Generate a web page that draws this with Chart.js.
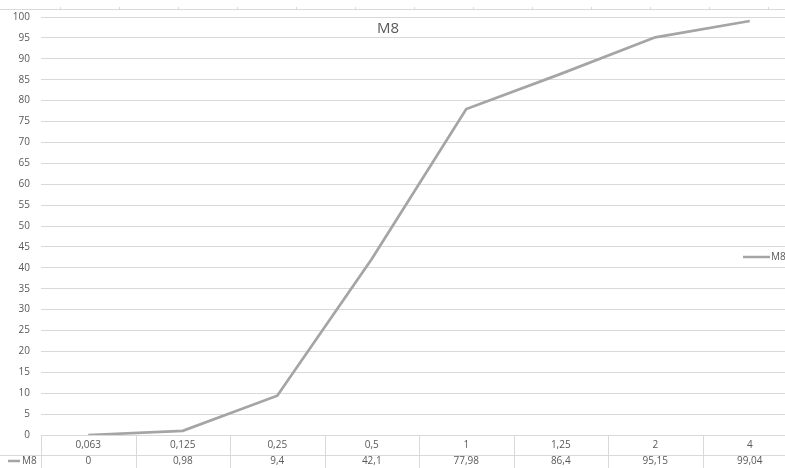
<!DOCTYPE html>
<html>
<head>
<meta charset="utf-8">
<script src="https://cdn.jsdelivr.net/npm/chart.js@4"></script>
<style>
  html, body { margin: 0; padding: 0; background: #fff; }
  #wrap { width: 785px; height: 468px; overflow: hidden; position: relative; }
  #box { width: 800px; height: 468px; }
</style>
</head>
<body>
<div id="wrap"><div id="box"><canvas id="c"></canvas></div></div>
<script>
// Sieve sizes (mm) and cumulative passing (%) for sample M8
const categories = ['0,063', '0,125', '0,25', '0,5', '1', '1,25', '2', '4'];
const m8Values = [0, 0.98, 9.4, 42.1, 77.98, 86.4, 95.15, 99.04];
const seriesName = 'M8';
const chartTitle = 'M8';

const TEXT = '#595959';
const GRID = '#d9d9d9';
const LINE = '#a5a5a5';
const FONT = '"Open Sans", "DejaVu Sans", sans-serif';

function fmt(v) { return String(v).replace('.', ','); }

// Title, legend, and the data table under the plot
const decorations = {
  id: 'decorations',
  afterDraw(chart) {
    const ctx = chart.ctx;
    const xs = chart.scales.x;
    const area = chart.chartArea;
    const W = chart.width;
    ctx.save();

    // thin rule along the top edge with small marks
    ctx.strokeStyle = GRID;
    ctx.lineWidth = 1;
    ctx.beginPath();
    ctx.moveTo(0, 9.5); ctx.lineTo(W, 9.5);
    for (let x = 60; x < W; x += 59) { ctx.moveTo(x + 0.5, 7); ctx.lineTo(x + 0.5, 9.5); }
    ctx.stroke();

    // title
    ctx.fillStyle = TEXT;
    ctx.font = '15px ' + FONT;
    ctx.textAlign = 'center';
    ctx.textBaseline = 'middle';
    ctx.fillText(chartTitle, 388, 29);

    // legend
    ctx.strokeStyle = LINE;
    ctx.lineWidth = 2.5;
    ctx.beginPath(); ctx.moveTo(743, 257); ctx.lineTo(770, 257); ctx.stroke();
    ctx.font = '10px ' + FONT;
    ctx.textAlign = 'left';
    ctx.fillText(seriesName, 771, 257.5);

    // data table
    const top = area.bottom, mid = top + 20, bot = chart.height;
    const half = (xs.getPixelForValue(1) - xs.getPixelForValue(0)) / 2;
    ctx.strokeStyle = GRID;
    ctx.lineWidth = 1;
    ctx.beginPath();
    ctx.moveTo(0, mid + 0.5); ctx.lineTo(W, mid + 0.5);
    for (let i = 0; i < categories.length; i++) {
      const x = Math.round(xs.getPixelForValue(i) - half) + 0.5;
      ctx.moveTo(x, top); ctx.lineTo(x, bot);
    }
    ctx.stroke();

    ctx.fillStyle = TEXT;
    ctx.font = '10px ' + FONT;
    ctx.textAlign = 'center';
    categories.forEach((c, i) => {
      const x = xs.getPixelForValue(i);
      ctx.fillText(c, x, top + 10);
      ctx.fillText(fmt(m8Values[i]), x, mid + 6.5);
    });

    // series key in the table row
    ctx.strokeStyle = LINE;
    ctx.lineWidth = 2.5;
    ctx.beginPath(); ctx.moveTo(8, mid + 6); ctx.lineTo(20, mid + 6); ctx.stroke();
    ctx.textAlign = 'left';
    ctx.fillText(seriesName, 22, mid + 6.5);
    ctx.restore();
  }
};

new Chart(document.getElementById('c'), {
  type: 'line',
  data: {
    labels: categories,
    datasets: [{
      label: seriesName,
      data: m8Values,
      borderColor: LINE,
      borderWidth: 2.75,
      pointRadius: 0,
      tension: 0,
      fill: false
    }]
  },
  options: {
    responsive: true,
    maintainAspectRatio: false,
    animation: false,
    layout: { padding: { top: 15, bottom: 33, right: 3, left: 0 } },
    plugins: { legend: { display: false }, title: { display: false }, tooltip: { enabled: false } },
    scales: {
      x: {
        type: 'category',
        offset: true,
        display: false
      },
      y: {
        min: 0,
        max: 100,
        ticks: { stepSize: 5, color: TEXT, font: { family: FONT, size: 10 }, padding: 11 },
        grid: { color: GRID, drawTicks: false, lineWidth: 1 },
        border: { display: false },
        afterFit(scale) { scale.width = 41; }
      }
    }
  },
  plugins: [decorations]
});
</script>
</body>
</html>
